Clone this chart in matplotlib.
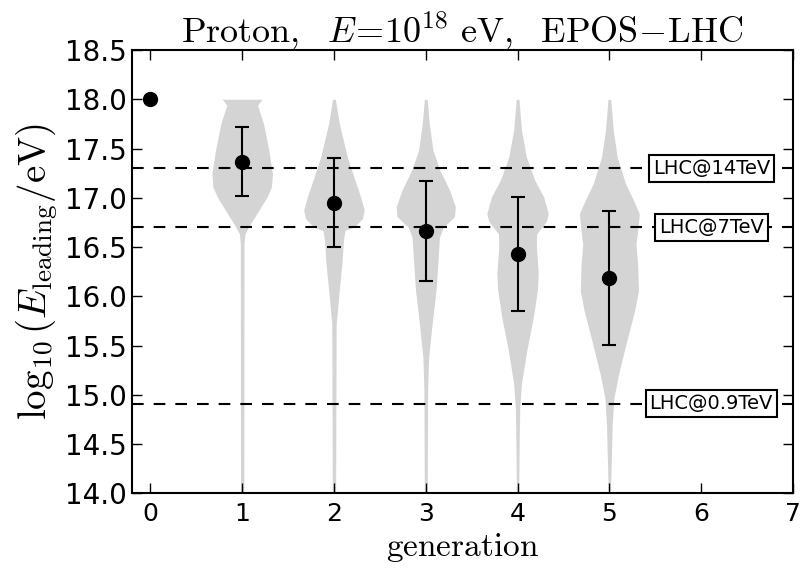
import numpy as np
import matplotlib.pyplot as plt

plt.rcParams['mathtext.fontset'] = 'cm'

# mean and spread of log10(E_leading/eV) per generation
generation = [0, 1, 2, 3, 4, 5]
mean_loge = [18.0, 17.365, 16.95, 16.662, 16.428, 16.187]
std_loge = [0.0, 0.35, 0.45, 0.51, 0.58, 0.68]

# violin outlines: levels and half widths
v1_y = [18.0, 17.94, 17.755, 17.484, 17.246, 17.11, 17.01, 16.87, 16.737, 16.635, 16.53, 14.0]
v1_w = [0.217, 0.167, 0.232, 0.29, 0.33, 0.319, 0.272, 0.18, 0.09, 0.03, 0.02, 0.018]
v2_y = [18.0, 17.755, 17.415, 17.21, 17.01, 16.875, 16.79, 16.70, 16.67, 16.57, 16.335, 16.064, 15.72, 14.0]
v2_w = [0.015, 0.058, 0.145, 0.217, 0.29, 0.33, 0.31, 0.217, 0.12, 0.103, 0.087, 0.058, 0.024, 0.018]
v3_y = [18.0, 17.755, 17.484, 17.28, 17.076, 16.91, 16.81, 16.70, 16.60, 16.397, 16.064, 15.72, 15.38, 15.04, 14.0]
v3_w = [0.015, 0.038, 0.078, 0.154, 0.26, 0.322, 0.313, 0.19, 0.149, 0.136, 0.112, 0.069, 0.031, 0.02, 0.016]
v4_y = [18.0, 17.69, 17.415, 17.18, 17.01, 16.84, 16.76, 16.635, 16.50, 16.23, 16.06, 15.79, 15.45, 15.11, 14.87, 14.53, 14.0]
v4_w = [0.015, 0.042, 0.096, 0.187, 0.284, 0.335, 0.313, 0.208, 0.205, 0.226, 0.216, 0.172, 0.10, 0.042, 0.024, 0.018, 0.012]
v5_y = [18.0, 17.69, 17.415, 17.144, 16.975, 16.84, 16.70, 16.53, 16.33, 16.06, 15.855, 15.55, 15.21, 14.97, 14.70, 14.36, 14.03]
v5_w = [0.015, 0.042, 0.085, 0.176, 0.263, 0.326, 0.313, 0.29, 0.308, 0.317, 0.275, 0.19, 0.10, 0.049, 0.031, 0.022, 0.012]

# LHC equivalent energies
lhc_loge = [17.3, 16.7, 14.91]
lhc_names = ['LHC@14TeV', 'LHC@7TeV', 'LHC@0.9TeV']

fig = plt.figure(figsize=(8.03, 5.68), dpi=100)
ax = fig.add_axes([0.1644, 0.1312, 0.8231, 0.7808])

violins = [(v1_y, v1_w), (v2_y, v2_w), (v3_y, v3_w), (v4_y, v4_w), (v5_y, v5_w)]
for pos, (vy, vw) in zip(generation[1:], violins):
    vy = np.array(vy)
    vw = np.array(vw)
    ax.fill_betweenx(vy, pos - vw, pos + vw, color='#d4d4d4', lw=0, zorder=1)

for y, name in zip(lhc_loge, lhc_names):
    ax.axhline(y, color='black', lw=1.5, ls=(0, (5.6, 4.8)), zorder=2)
    ax.text(6.11, y, name, ha='center', va='center', fontsize=14, zorder=4,
            bbox=dict(boxstyle='square,pad=0.2', fc='white', ec='black', lw=1.5))

ax.errorbar(generation[1:], mean_loge[1:], yerr=std_loge[1:], fmt='none',
            ecolor='black', elinewidth=1.5, capsize=5, capthick=1.5, zorder=3)
ax.plot(generation, mean_loge, 'o', color='black', markersize=10, zorder=5)

ax.set_xlim(-0.2, 7)
ax.set_ylim(14.0, 18.5)
ax.set_xticks(range(8))
ax.set_yticks(np.arange(14.0, 18.51, 0.5))
ax.set_yticklabels(['%.1f' % v for v in np.arange(14.0, 18.51, 0.5)])
ax.tick_params(direction='in', top=True, right=True, length=7, width=1)
ax.tick_params(axis='y', labelsize=20)
ax.tick_params(axis='x', labelsize=18, pad=6)
for sp in ax.spines.values():
    sp.set_linewidth(1.5)

ax.set_title(r'$\mathrm{Proton,}\ \ E\!=\!10^{18}\ \mathrm{eV,}\ \ \mathrm{EPOS\!-\!LHC}$',
             fontsize=26, pad=5)
ax.set_xlabel(r'$\mathrm{generation}$', fontsize=24, labelpad=4)
ax.set_ylabel(r'$\log_{10}(E_\mathrm{leading}/\mathrm{eV})$', fontsize=28, labelpad=4)

fig.savefig('out.png', dpi=100)
